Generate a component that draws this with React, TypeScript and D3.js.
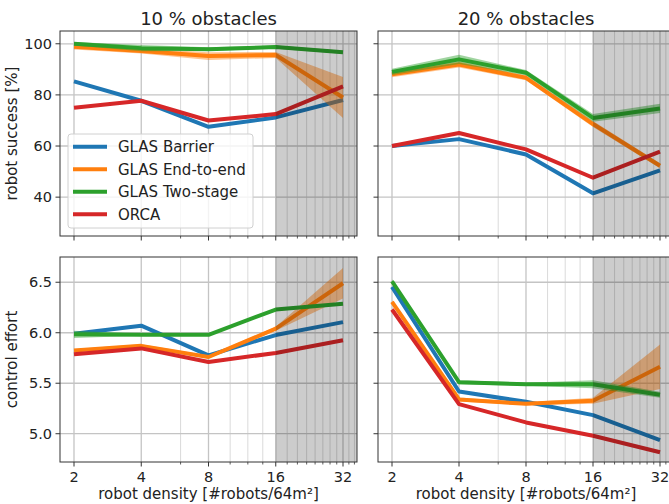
import { useEffect, useRef } from "react";
import * as d3 from "d3";

const densities = [2, 4, 8, 16, 32];
const minorTicks = [6, 10, 12, 14, 18, 20, 22, 24, 26, 28, 30, 34, 36];
const methods = ["GLAS Barrier", "GLAS End-to-end", "GLAS Two-stage", "ORCA"];
const colors = ["#1f77b4", "#ff7f0e", "#2ca02c", "#d62728"];

// robot success [%], rows follow `methods`
const success10 = [
  [85.3, 77.7, 67.5, 71.2, 78.0],
  [98.8, 97.2, 95.2, 95.6, 79.0],
  [100.0, 98.3, 97.9, 98.7, 96.7],
  [75.0, 77.7, 70.0, 72.5, 83.3],
];
const success10Err = [
  [0.4, 0.4, 0.4, 0.4, 0.6],
  [1.0, 1.0, 1.5, 1.2, 8.0],
  [0.7, 1.2, 0.7, 0.6, 0.6],
  [0.3, 0.3, 0.3, 0.4, 0.6],
];
const success20 = [
  [60.0, 62.7, 56.7, 41.5, 50.5],
  [88.1, 91.9, 86.7, 68.6, 52.3],
  [89.0, 93.9, 88.7, 71.0, 74.7],
  [60.0, 65.1, 58.7, 47.6, 57.8],
];
const success20Err = [
  [0.3, 0.3, 0.3, 0.4, 0.4],
  [1.2, 1.2, 1.0, 1.2, 1.0],
  [1.2, 1.8, 1.0, 1.5, 1.8],
  [0.3, 0.3, 0.3, 0.3, 0.4],
];

// control effort
const effort10 = [
  [5.99, 6.07, 5.776, 5.977, 6.105],
  [5.825, 5.87, 5.76, 6.04, 6.49],
  [5.984, 5.98, 5.98, 6.23, 6.286],
  [5.786, 5.845, 5.71, 5.8, 5.925],
];
const effort10Err = [
  [0.01, 0.01, 0.01, 0.01, 0.01],
  [0.015, 0.015, 0.015, 0.02, 0.15],
  [0.035, 0.01, 0.01, 0.01, 0.01],
  [0.01, 0.01, 0.01, 0.01, 0.01],
];
const effort20 = [
  [6.454, 5.418, 5.316, 5.184, 4.937],
  [6.306, 5.339, 5.296, 5.326, 5.664],
  [6.51, 5.51, 5.49, 5.49, 5.385],
  [6.23, 5.293, 5.112, 4.98, 4.816],
];
const effort20Err = [
  [0.01, 0.01, 0.01, 0.01, 0.01],
  [0.015, 0.02, 0.015, 0.03, 0.22],
  [0.02, 0.02, 0.015, 0.04, 0.03],
  [0.01, 0.01, 0.01, 0.01, 0.01],
];

const successTicks = [40, 60, 80, 100];
const effortTicks = [5.0, 5.5, 6.0, 6.5];

const FONT = "DejaVu Sans, sans-serif";

function App() {
  const ref = useRef<SVGSVGElement>(null);

  useEffect(() => {
    const svg = d3.select(ref.current);
    svg.selectAll("*").remove();

    const cols = [
      { x0: 60, x1: 357 },
      { x0: 378, x1: 674 },
    ];
    const rows = [
      { y0: 31, y1: 236, domain: [24.8, 105], ticks: successTicks, fmt: (d: number) => d3.format("d")(d) },
      { y0: 257, y1: 462, domain: [4.72, 6.75], ticks: effortTicks, fmt: (d: number) => d3.format(".1f")(d) },
    ];
    const panels = [
      { r: 0, c: 0, vals: success10, err: success10Err },
      { r: 0, c: 1, vals: success20, err: success20Err },
      { r: 1, c: 0, vals: effort10, err: effort10Err },
      { r: 1, c: 1, vals: effort20, err: effort20Err },
    ];

    panels.forEach((p, pi) => {
      const col = cols[p.c];
      const row = rows[p.r];
      const x = d3.scaleLog().base(2).domain([2, 32]).range([col.x0 + 14, col.x1 - 14]);
      const y = d3.scaleLinear().domain(row.domain).range([row.y1, row.y0]);

      const clipId = "clip" + pi;
      svg.append("clipPath").attr("id", clipId)
        .append("rect")
        .attr("x", col.x0).attr("y", row.y0)
        .attr("width", col.x1 - col.x0).attr("height", row.y1 - row.y0);

      const g = svg.append("g").attr("clip-path", `url(#${clipId})`);

      // grid
      g.selectAll(".minor").data(minorTicks).enter().append("line")
        .attr("x1", d => x(d)).attr("x2", d => x(d))
        .attr("y1", row.y0).attr("y2", row.y1)
        .attr("stroke", "#dadada").attr("stroke-width", 1);
      g.selectAll(".majorx").data(densities).enter().append("line")
        .attr("x1", d => x(d)).attr("x2", d => x(d))
        .attr("y1", row.y0).attr("y2", row.y1)
        .attr("stroke", "#c4c4c4").attr("stroke-width", 1.3);
      g.selectAll(".majory").data(row.ticks).enter().append("line")
        .attr("x1", col.x0).attr("x2", col.x1)
        .attr("y1", d => y(d)).attr("y2", d => y(d))
        .attr("stroke", "#c4c4c4").attr("stroke-width", 1.3);

      // bands + lines
      p.vals.forEach((series, si) => {
        const pts = series.map((v, i) => ({ d: densities[i], v, e: p.err[si][i] }));
        g.append("path").datum(pts)
          .attr("fill", colors[si]).attr("fill-opacity", 0.45)
          .attr("d", d3.area<any>()
            .x(d => x(d.d))
            .y0(d => y(d.v - d.e))
            .y1(d => y(d.v + d.e)));
        g.append("path").datum(pts)
          .attr("fill", "none").attr("stroke", colors[si])
          .attr("stroke-width", 4)
          .attr("stroke-linejoin", "round")
          .attr("d", d3.line<any>().x(d => x(d.d)).y(d => y(d.v)));
      });

      // shaded dense region
      g.append("rect")
        .attr("x", x(16)).attr("y", row.y0)
        .attr("width", col.x1 - x(16)).attr("height", row.y1 - row.y0)
        .attr("fill", "#000").attr("fill-opacity", 0.2);

      // ticks
      const tk = svg.append("g");
      tk.selectAll(".tmaj").data(densities).enter().append("line")
        .attr("x1", d => x(d)).attr("x2", d => x(d))
        .attr("y1", row.y1).attr("y2", row.y1 + 4.5)
        .attr("stroke", "#333").attr("stroke-width", 1);
      tk.selectAll(".tmin").data(minorTicks).enter().append("line")
        .attr("x1", d => x(d)).attr("x2", d => x(d))
        .attr("y1", row.y1).attr("y2", row.y1 + 2.5)
        .attr("stroke", "#333").attr("stroke-width", 0.8);
      tk.selectAll(".ty").data(row.ticks).enter().append("line")
        .attr("x1", col.x0 - 4.5).attr("x2", col.x0)
        .attr("y1", d => y(d)).attr("y2", d => y(d))
        .attr("stroke", "#333").attr("stroke-width", 1);

      if (p.c === 0) {
        tk.selectAll(".tyl").data(row.ticks).enter().append("text")
          .attr("x", col.x0 - 8).attr("y", d => y(d) + 5)
          .attr("text-anchor", "end")
          .attr("font-family", FONT).attr("font-size", 14.5).attr("fill", "#222")
          .text(d => row.fmt(d));
      }
      if (p.r === 1) {
        tk.selectAll(".txl").data(densities).enter().append("text")
          .attr("x", d => x(d)).attr("y", row.y1 + 19.5)
          .attr("text-anchor", "middle")
          .attr("font-family", FONT).attr("font-size", 14.5).attr("fill", "#222")
          .text(d => String(d));
        svg.append("text")
          .attr("x", (col.x0 + Math.min(col.x1, 674)) / 2).attr("y", 499)
          .attr("text-anchor", "middle")
          .attr("font-family", FONT).attr("font-size", 15).attr("fill", "#222")
          .text("robot density [#robots/64m²]");
      } else {
        svg.append("text")
          .attr("x", (col.x0 + col.x1) / 2).attr("y", 25)
          .attr("text-anchor", "middle")
          .attr("font-family", FONT).attr("font-size", 18).attr("fill", "#222")
          .text(p.c === 0 ? "10 % obstacles" : "20 % obstacles");
      }

      // frame
      svg.append("rect")
        .attr("x", col.x0).attr("y", row.y0)
        .attr("width", col.x1 - col.x0).attr("height", row.y1 - row.y0)
        .attr("fill", "none").attr("stroke", "#333").attr("stroke-width", 1);
    });

    // y labels
    svg.append("text")
      .attr("transform", `translate(17,${(rows[0].y0 + rows[0].y1) / 2}) rotate(-90)`)
      .attr("text-anchor", "middle")
      .attr("font-family", FONT).attr("font-size", 15).attr("fill", "#222")
      .text("robot success [%]");
    svg.append("text")
      .attr("transform", `translate(17,${(rows[1].y0 + rows[1].y1) / 2}) rotate(-90)`)
      .attr("text-anchor", "middle")
      .attr("font-family", FONT).attr("font-size", 15).attr("fill", "#222")
      .text("control effort");

    // legend
    const lg = svg.append("g").attr("transform", "translate(68,134)");
    lg.append("rect")
      .attr("width", 185).attr("height", 94).attr("rx", 3)
      .attr("fill", "#fff").attr("fill-opacity", 0.8)
      .attr("stroke", "#d0d0d0").attr("stroke-width", 1);
    methods.forEach((m, i) => {
      const yy = 12.7 + i * 22.5;
      lg.append("line")
        .attr("x1", 5).attr("x2", 39).attr("y1", yy).attr("y2", yy)
        .attr("stroke", colors[i]).attr("stroke-width", 4);
      lg.append("text")
        .attr("x", 50).attr("y", yy + 5.5)
        .attr("font-family", FONT).attr("font-size", 15).attr("fill", "#222")
        .text(m);
    });
  }, []);

  return (
    <div style={{ position: "absolute", left: 0, top: 0 }}>
      <svg ref={ref} width={669} height={504} style={{ display: "block", background: "#fff" }}></svg>
    </div>
  );
}

export default App;
